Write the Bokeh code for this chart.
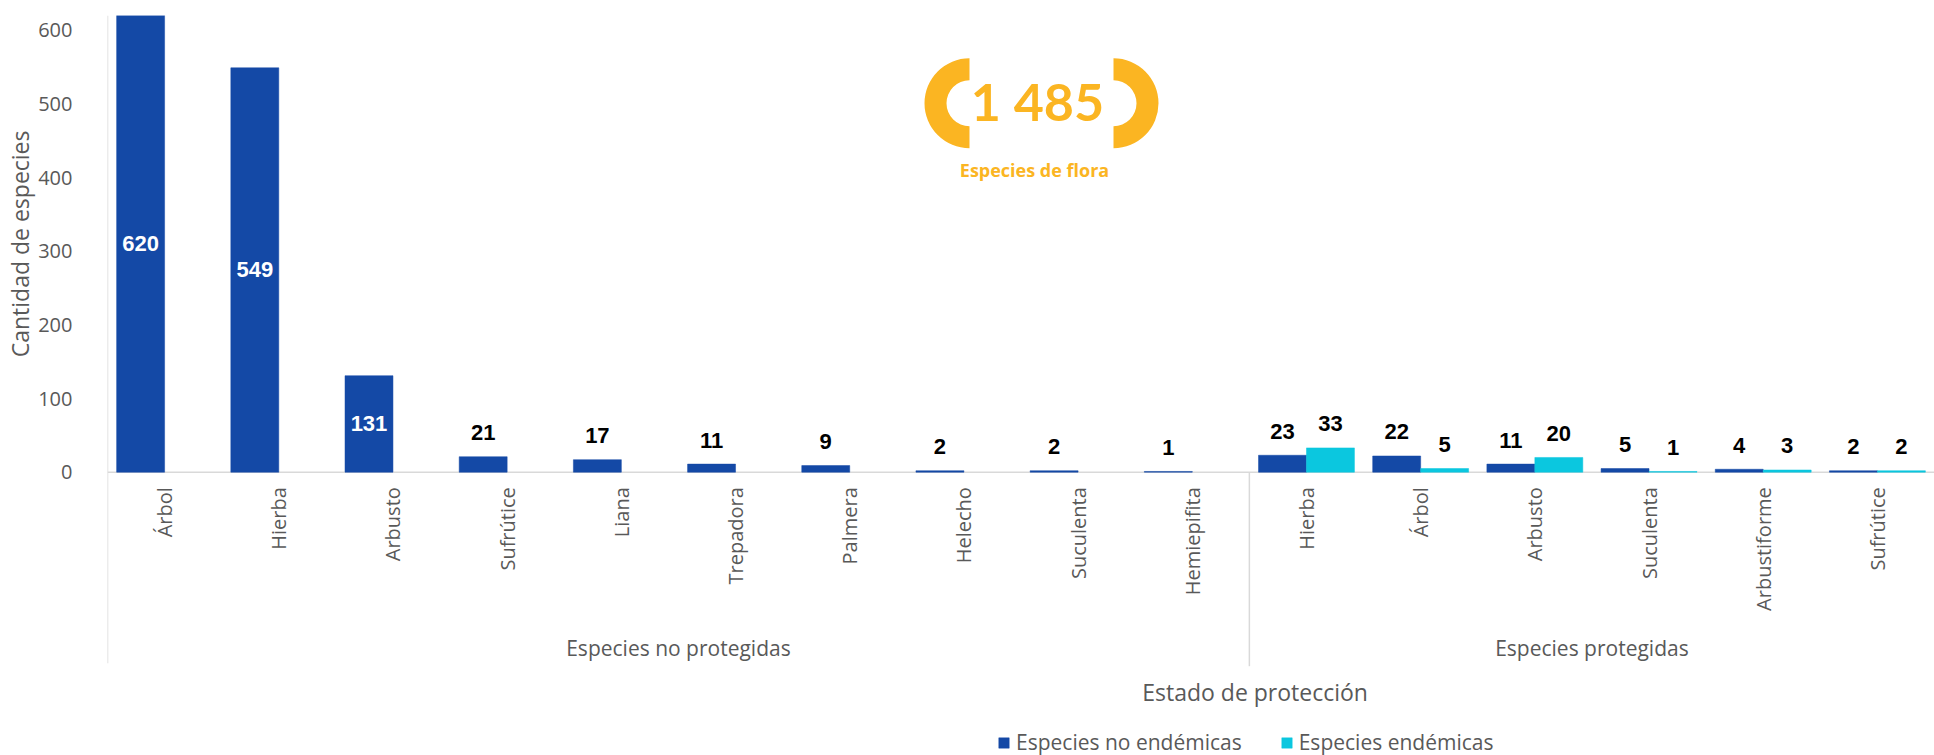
import math
from bokeh.plotting import figure
from bokeh.models import (FactorRange, Range1d, ColumnDataSource, FixedTicker, Title,
                          Legend, LegendItem)
from bokeh.transform import dodge
from bokeh.core.properties import value
from bokeh.embed import file_html
from bokeh.resources import INLINE

# ---------------- data ----------------
group_names = ["Especies no protegidas", "Especies protegidas"]
cats_no_prot = ["Árbol", "Hierba", "Arbusto", "Sufrútice", "Liana", "Trepadora",
                "Palmera", "Helecho", "Suculenta", "Hemiepifita"]
no_end_no_prot = [620, 549, 131, 21, 17, 11, 9, 2, 2, 1]
cats_prot = ["Hierba", "Árbol", "Arbusto", "Suculenta", "Arbustiforme", "Sufrútice"]
no_end_prot = [23, 22, 11, 5, 4, 2]
end_prot = [33, 5, 20, 1, 3, 2]
series_names = ["Especies no endémicas", "Especies endémicas"]
y_ticks = [0, 100, 200, 300, 400, 500, 600]
y_max = 620
badge_number = "1 485"
badge_text = "Especies de flora"
y_title = "Cantidad de especies"
x_title = "Estado de protección"

# ---------------- style / layout ----------------
DARK = "#1449A6"
CYAN = "#0BC7DF"
ORANGE = "#FBB522"
GREY = "#595959"
LINE = "#D9D9D9"
FONT = "Open Sans"

W, H = 1934, 755
LEFT, TOP = 107, 15
FRAME_W = W - LEFT
FRAME_H = H - TOP          # frame reaches the bottom of the figure
ZERO_PX = 456.7            # distance from frame top to the value-0 line

factors_no = [(group_names[0], c) for c in cats_no_prot]
factors_pr = [(group_names[1], c) for c in cats_prot]
factors = factors_no + factors_pr
CAT_PX = FRAME_W / len(factors)


def px_x(px):
    """frame pixel offset -> synthetic categorical coordinate"""
    return px / CAT_PX


y_lo = -y_max * (FRAME_H - ZERO_PX) / ZERO_PX

p = figure(width=W, height=H,
           x_range=FactorRange(*factors, group_padding=0, factor_padding=0, range_padding=0),
           y_range=Range1d(y_lo, y_max), x_axis_location=None,
           output_backend="svg", toolbar_location=None,
           min_border_left=LEFT, min_border_right=0, min_border_top=TOP,
           min_border_bottom=0)
# pixel-based y range (0 = value-0 line, positive upwards) for decorations
p.extra_y_ranges = {"px": Range1d(ZERO_PX - FRAME_H, ZERO_PX)}
p.outline_line_color = None
p.xgrid.grid_line_color = None
p.ygrid.grid_line_color = None
p.background_fill_color = "white"
p.border_fill_color = "white"

n_no = len(cats_no_prot)
n_all = len(factors)

# axis lines (category axis at 0, left edge, group separator)
p.segment(x0=[0], x1=[n_all], y0=[0], y1=[0], line_color=LINE, line_width=1.5)
p.segment(x0=[0, n_no], x1=[0, n_no], y0=[ZERO_PX, 0], y1=[-191, -194],
          y_range_name="px", line_color=LINE, line_width=1.5)

# bars
dark_x = factors
dark_v = no_end_no_prot + no_end_prot
src_dark = ColumnDataSource(dict(x=dark_x, v=dark_v))
src_cyan = ColumnDataSource(dict(x=factors_pr, v=end_prot))
BW = 0.42
r_dark = p.vbar(x=dodge("x", -BW / 2, range=p.x_range), top="v", bottom=0, width=BW,
                source=src_dark, fill_color=DARK, line_color=DARK, line_width=0.5)
r_cyan = p.vbar(x=dodge("x", BW / 2, range=p.x_range), top="v", bottom=0, width=BW,
                source=src_cyan, fill_color=CYAN, line_color=CYAN, line_width=0.5)

# data labels
def split_labels(xs, vs):
    ins = dict(x=[], y=[], t=[])
    out = dict(x=[], y=[], t=[])
    for x, v in zip(xs, vs):
        if v > 100:
            ins["x"].append(x); ins["y"].append(v / 2); ins["t"].append(str(v))
        else:
            out["x"].append(x); out["y"].append(v); out["t"].append(str(v))
    return ColumnDataSource(ins), ColumnDataSource(out)

for xs, vs, off in [(dark_x, dark_v, -BW / 2), (factors_pr, end_prot, BW / 2)]:
    s_in, s_out = split_labels(xs, vs)
    p.text(x=dodge("x", off, range=p.x_range), y="y", text="t", source=s_in,
           text_color="white", text_font=value("Liberation Sans"), text_font_style="bold",
           text_font_size="22px", text_align="center", text_baseline="middle")
    p.text(x=dodge("x", off, range=p.x_range), y="y", text="t", source=s_out,
           text_color="black", text_font=value("Liberation Sans"), text_font_style="bold",
           text_font_size="22px", text_align="center", text_baseline="alphabetic",
           y_offset=-24)

# category labels (rotated) under the axis
cat_src = ColumnDataSource(dict(x=factors, t=[f[1] for f in factors],
                                y=[-15] * len(factors)))
p.text(x="x", y="y", text="t", source=cat_src, y_range_name="px", angle=math.pi / 2,
       text_align="right", text_baseline="middle", text_font=value(FONT),
       text_font_size="20px", text_color=GREY)

# group labels
grp_src = ColumnDataSource(dict(x=[n_no / 2, n_no + len(cats_prot) / 2], t=group_names,
                                y=[-176, -176]))
p.text(x="x", y="y", text="t", source=grp_src, y_range_name="px",
       text_align="center", text_baseline="middle", text_font=value(FONT),
       text_font_size="21px", text_color=GREY)

# category axis title
p.text(x=[n_no + 0.05], y=[-220], text=[x_title], y_range_name="px",
       text_align="center", text_baseline="middle", text_font=value(FONT),
       text_font_size="23px", text_color=GREY)

# y axis
ya = p.yaxis[0]
ya.ticker = FixedTicker(ticks=y_ticks)
ya.major_tick_line_color = None
ya.minor_tick_line_color = None
ya.major_label_standoff = 29
ya.major_label_text_font = FONT
ya.major_label_text_font_size = "20px"
ya.major_label_text_color = GREY
ya.axis_line_color = None

p.add_layout(Title(text=y_title, align="right", offset=115, standoff=0,
                   text_font=FONT, text_font_size="23px", text_font_style="normal",
                   text_color=GREY), "left")

# legend
legend = Legend(items=[LegendItem(label=series_names[0], renderers=[r_dark]),
                       LegendItem(label=series_names[1], renderers=[r_cyan])],
                orientation="horizontal", location=(890, -1),
                padding=0, margin=0, spacing=38, label_standoff=6,
                glyph_width=13, glyph_height=13,
                label_text_font=FONT, label_text_font_size="21px", label_text_color=GREY,
                border_line_color=None, background_fill_alpha=0)
p.add_layout(legend)

# badge
p.annular_wedge(x=[px_x(862), px_x(1006)], y=[369, 369], inner_radius=23, outer_radius=45,
                inner_radius_units="screen", outer_radius_units="screen",
                start_angle=[math.pi / 2, -math.pi / 2], end_angle=[3 * math.pi / 2, math.pi / 2],
                fill_color=ORANGE, line_color=None, y_range_name="px")
p.text(x=[px_x(930)], y=[371], text=[badge_number], y_range_name="px",
       text_color=ORANGE, text_font=value("Lato"), text_font_style="bold",
       text_font_size="52px", text_align="center", text_baseline="middle")
p.text(x=[px_x(927)], y=[302], text=[badge_text], y_range_name="px",
       text_color=ORANGE, text_font=value("Open Sans"), text_font_style="bold",
       text_font_size="18px", text_align="center", text_baseline="middle")

open("out.html", "w").write(file_html(p, INLINE))
